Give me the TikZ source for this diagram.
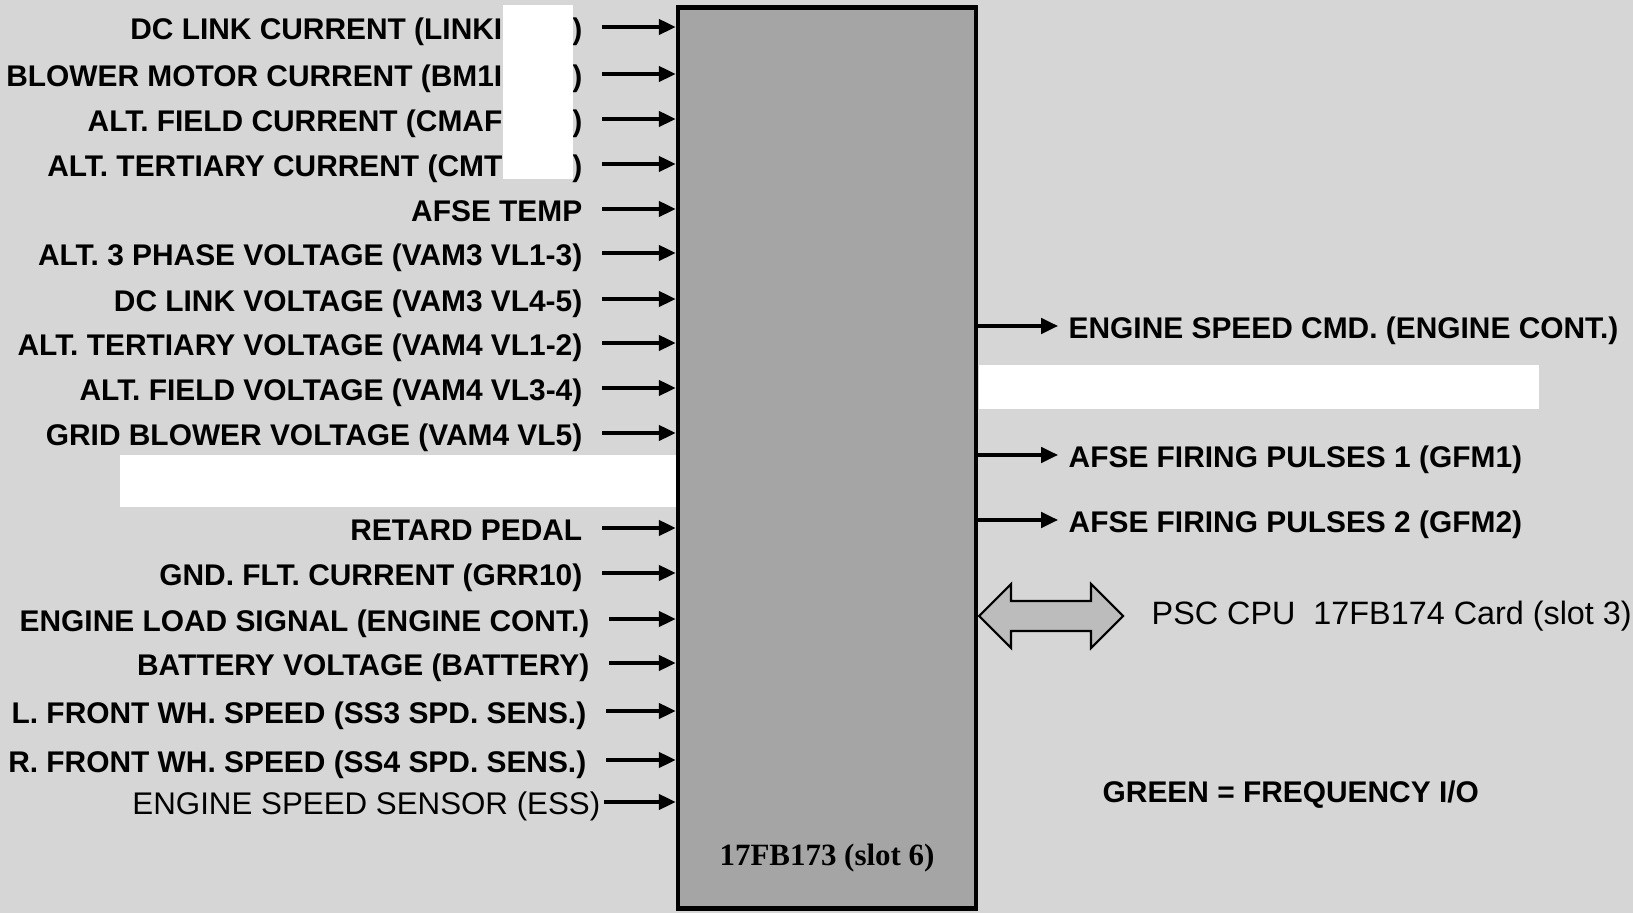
\documentclass[tikz,border=0pt]{standalone}
\usepackage{fontspec}
\setmainfont{Liberation Sans}
\newfontfamily\cardfont{Liberation Serif}
\usepackage{xcolor}
\usepackage{tikz}
\usetikzlibrary{arrows.meta, positioning, calc}

\definecolor{paper}{RGB}{214,214,214}
\definecolor{cardgray}{RGB}{165,165,165}
\definecolor{linkgray}{RGB}{188,188,188}

\tikzset{
	inlbl/.style={anchor=east, inner xsep=1.9mm, inner ysep=0pt, text height=0.72em, text depth=0pt, font=\fontsize{8.5}{10}\selectfont\bfseries},
	outlbl/.style={anchor=west, inner xsep=1mm, inner ysep=0pt, text height=0.72em, text depth=0pt, font=\fontsize{8.5}{10}\selectfont\bfseries},
	sig/.style={-{Triangle[length=4.8pt,width=4.4pt]}, line width=0.9pt},
}

\begin{document}
\begin{tikzpicture}[x=0.01cm, y=-0.01cm]
			\useasboundingbox (0,0) rectangle (1633,913);
			\fill[paper] (0,0) rectangle (1633,913);
			\fill[white] (120,455) rectangle (676,507);
			\fill[white] (979,365) rectangle (1539,409);
			
			\node[draw, line width=1.3pt, fill=cardgray, minimum width=2.98cm, minimum height=9cm] (box) at (827,458) {};
			\node[font=\cardfont\fontsize{8.8}{10}\selectfont\bfseries, inner sep=0pt] (card) at (827,858) {17FB173 (slot 6)};
			
			\node[inlbl] (in1) at (602,27) {DC LINK CURRENT (LINKI\hspace{0.7cm})};
			\node[inlbl] (in2) at (602,74) {BLOWER MOTOR CURRENT (BM1I\hspace{0.7cm})};
			\node[inlbl] (in3) at (602,119) {ALT. FIELD CURRENT (CMAF\hspace{0.7cm})};
			\node[inlbl] (in4) at (602,164) {ALT. TERTIARY CURRENT (CMT\hspace{0.7cm})};
			\node[inlbl] (in5) at (602,209) {AFSE TEMP};
			\node[inlbl] (in6) at (602,253) {ALT. 3 PHASE VOLTAGE (VAM3 VL1-3)};
			\node[inlbl] (in7) at (602,299) {DC LINK VOLTAGE (VAM3 VL4-5)};
			\node[inlbl] (in8) at (602,343) {ALT. TERTIARY VOLTAGE (VAM4 VL1-2)};
			\node[inlbl] (in9) at (602,388) {ALT. FIELD VOLTAGE (VAM4 VL3-4)};
			\node[inlbl] (in10) at (602,433) {GRID BLOWER VOLTAGE (VAM4 VL5)};
			\node[inlbl] (in11) at (602,528) {RETARD PEDAL};
			\node[inlbl] (in12) at (602,573) {GND. FLT. CURRENT (GRR10)};
			\node[inlbl] (in13) at (609,619) {ENGINE LOAD SIGNAL (ENGINE CONT.)};
			\node[inlbl] (in14) at (609,663) {BATTERY VOLTAGE (BATTERY)};
			\node[inlbl] (in15) at (606,711) {L. FRONT WH. SPEED (SS3 SPD. SENS.)};
			\node[inlbl] (in16) at (606,760) {R. FRONT WH. SPEED (SS4 SPD. SENS.)};
			\node[inlbl, inner xsep=0.3mm, font=\fontsize{8.9}{10}\selectfont] (in17) at (604,802) {ENGINE SPEED SENSOR (ESS)};
			
			\fill[white] (503,5) rectangle (573,179);
			
			\draw[sig] (in1) -- (in1 -| box.west);
			\draw[sig] (in2) -- (in2 -| box.west);
			\draw[sig] (in3) -- (in3 -| box.west);
			\draw[sig] (in4) -- (in4 -| box.west);
			\draw[sig] (in5) -- (in5 -| box.west);
			\draw[sig] (in6) -- (in6 -| box.west);
			\draw[sig] (in7) -- (in7 -| box.west);
			\draw[sig] (in8) -- (in8 -| box.west);
			\draw[sig] (in9) -- (in9 -| box.west);
			\draw[sig] (in10) -- (in10 -| box.west);
			\draw[sig] (in11) -- (in11 -| box.west);
			\draw[sig] (in12) -- (in12 -| box.west);
			\draw[sig] (in13) -- (in13 -| box.west);
			\draw[sig] (in14) -- (in14 -| box.west);
			\draw[sig] (in15) -- (in15 -| box.west);
			\draw[sig] (in16) -- (in16 -| box.west);
			\draw[sig] (in17) -- (in17 -| box.west);
			
			\node[outlbl] (out1) at (1058,326) {ENGINE SPEED CMD. (ENGINE CONT.)};
			\node[outlbl] (out2) at (1058,455) {AFSE FIRING PULSES 1 (GFM1)};
			\node[outlbl] (out3) at (1058,520) {AFSE FIRING PULSES 2 (GFM2)};
			
			\draw[sig] (out1 -| box.east) -- (out1);
			\draw[sig] (out2 -| box.east) -- (out2);
			\draw[sig] (out3 -| box.east) -- (out3);
			
			\node[anchor=west, inner sep=0pt, font=\fontsize{9.2}{11}\selectfont] (psc) at (1151,616) {PSC CPU\ \ 17FB174 Card (slot 3)};
			\coordinate (lnk) at (979,616);
			\draw[fill=linkgray, line width=0.6pt] (lnk) -- ++(32,-32) -- ++(0,17) -- ++(80,0) -- ++(0,-17) -- ++(32,32) -- ++(-32,32) -- ++(0,-17) -- ++(-80,0) -- ++(0,17) -- cycle;
			
			\node[anchor=west, inner sep=0pt, font=\fontsize{8.5}{10}\selectfont\bfseries] (note) at (1102,795) {GREEN = FREQUENCY I/O};
		\end{tikzpicture}
\end{document}
